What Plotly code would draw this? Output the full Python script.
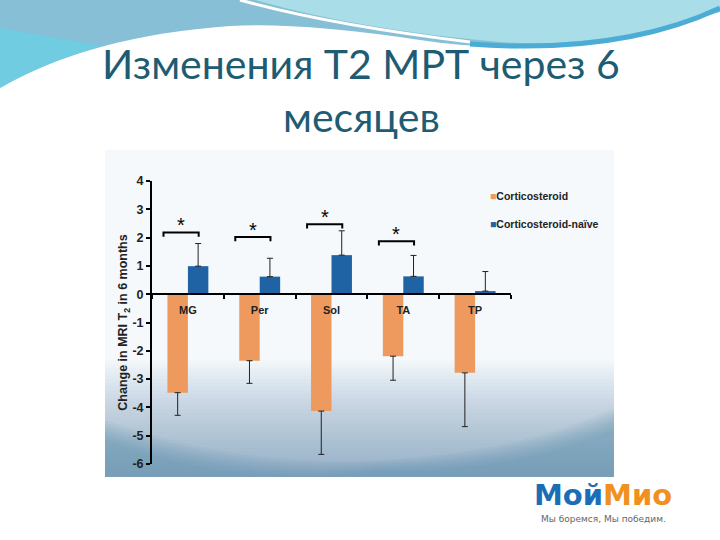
import plotly.graph_objects as go

# ---------------- data ----------------
categories = ["MG", "Per", "Sol", "TA", "TP"]
steroid_vals = [-3.48, -2.35, -4.13, -2.19, -2.78]
steroid_err = [0.80, 0.80, 1.53, 0.85, 1.90]
naive_vals = [0.99, 0.62, 1.38, 0.63, 0.11]
naive_err = [0.80, 0.65, 0.86, 0.74, 0.69]
sig_index = [0, 1, 2, 3]
sig_height = [2.18, 2.02, 2.47, 1.87]
series_names = ["Corticosteroid", "Corticosteroid-naïve"]
y_ticks = [4, 3, 2, 1, 0, -1, -2, -3, -4, -5, -6]
y_ticktext = ["4", "3", "2", "1", "0", "-1", "-2", "-3", "-4", "-5", "-6"]

ORANGE = "#EE9A5E"
BLUE = "#1F63A5"

# ---------------- layout geometry (pixels) ----------------
W, H = 720, 540
L, R, T, B = 152, 209, 181, 76
PW, PH = W - L - R, H - T - B


def px(X):
    return (X - L) / PW


def py(Y):
    return (H - B - Y) / PH


def path_px(pts, close=True):
    s = ""
    for k, p in enumerate(pts):
        if p[0] == "Q":
            _, x1, y1, x2, y2 = p
            s += f" Q{px(x1):.4f},{py(y1):.4f} {px(x2):.4f},{py(y2):.4f}"
        else:
            s += ("M" if k == 0 else " L") + f"{px(p[0]):.4f},{py(p[1]):.4f}"
    return s + (" Z" if close else "")


fig = go.Figure()
fig.add_trace(go.Bar(
    x=categories, y=steroid_vals, name=series_names[0], marker_color=ORANGE,
    marker_line_width=0,
    error_y=dict(type="data", symmetric=False, array=[0] * len(steroid_err),
                 arrayminus=steroid_err, color="#222", thickness=1, width=3),
))
fig.add_trace(go.Bar(
    x=categories, y=naive_vals, name=series_names[1], marker_color=BLUE,
    marker_line_width=0,
    error_y=dict(type="data", symmetric=False, array=naive_err,
                 arrayminus=[0] * len(naive_err), color="#222", thickness=1, width=3),
))

shapes = []
# --- slide decoration (top waves) ---
shapes.append(dict(type="path", xref="paper", yref="paper", layer="below",
                   path=path_px([(0, 0), (720, 0), (720, 12), ("Q", 560, 62, 420, 40),
                                 ("Q", 300, 22, 230, 26), ("Q", 90, 36, 0, 88)]),
                   fillcolor="#86BFD6", line_width=0))
shapes.append(dict(type="path", xref="paper", yref="paper", layer="below",
                   path=path_px([(0, 28), (102, 46), ("Q", 45, 62, 0, 88)]),
                   fillcolor="#6ACFE2", opacity=0.8, line_width=0))
shapes.append(dict(type="path", xref="paper", yref="paper", layer="below",
                   path=path_px([(255, 0), (720, 0), (720, 10), ("Q", 600, 50, 500, 42),
                                 ("Q", 360, 30, 255, 0)]),
                   fillcolor="#A9DDE8", line_width=0))
shapes.append(dict(type="path", xref="paper", yref="paper", layer="below",
                   path=path_px([(240, 0), ("Q", 330, 25, 470, 42)], close=False),
                   line=dict(color="white", width=3)))
shapes.append(dict(type="path", xref="paper", yref="paper", layer="below",
                   path=path_px([(470, 44), ("Q", 620, 55, 720, 8)], close=False),
                   line=dict(color="#4BADD6", width=5)))
# --- chart picture background ---
shapes.append(dict(type="rect", xref="paper", yref="paper", layer="below",
                   x0=px(105), x1=px(614), y0=py(477), y1=py(150),
                   fillcolor="#F5F9FB", line_width=0))
for k in range(30):
    Ytop = 360 + k * 3.8
    shapes.append(dict(type="rect", xref="paper", yref="paper", layer="below",
                       x0=px(105), x1=px(614), y0=py(477), y1=py(Ytop),
                       fillcolor="#4F93AF", opacity=0.023, line_width=0))
for k in range(8):
    d = k * 3
    shapes.append(dict(type="path", xref="paper", yref="paper", layer="below",
                       path=path_px([(105, 477), (105, 420 + d), ("Q", 240, 468 + d, 380, 460 + d / 2),
                                     ("Q", 520, 452 + d, 614, 408 + d), (614, 477)]),
                       fillcolor="#4F93AF", opacity=0.07, line_width=0))

annotations = []
# --- significance brackets ---
for i, h in zip(sig_index, sig_height):
    x0, x1, d = i - 0.34, i + 0.15, 0.15
    shapes.append(dict(type="path", xref="x", yref="y",
                       path=f"M{x0},{h - d} L{x0},{h} L{x1},{h} L{x1},{h - d}",
                       line=dict(color="black", width=2)))
    annotations.append(dict(x=(x0 + x1) / 2, y=h - 0.2, xref="x", yref="y", text="*",
                            showarrow=False, yanchor="bottom",
                            font=dict(size=20, color="black", family="Liberation Sans")))

# --- legend as text ---
for name, col, Y in [(series_names[0], ORANGE, 196), (series_names[1], BLUE, 224)]:
    annotations.append(dict(x=px(488), y=py(Y), xref="paper", yref="paper",
                            xanchor="left", yanchor="middle", showarrow=False,
                            text=f"<span style='color:{col}'>■</span><b>{name}</b>",
                            font=dict(size=10.5, color="#222", family="Liberation Sans")))

# --- title ---
annotations.append(dict(x=px(361), y=py(64), xref="paper", yref="paper",
                        text="Изменения Т2 МРТ через 6", showarrow=False,
                        xanchor="center", yanchor="middle",
                        font=dict(size=41, color="#1E5C73", family="Lato")))
annotations.append(dict(x=px(361), y=py(117), xref="paper", yref="paper",
                        text="месяцев", showarrow=False,
                        xanchor="center", yanchor="middle",
                        font=dict(size=41, color="#1E5C73", family="Lato")))
# --- logo ---
annotations.append(dict(x=px(603), y=py(495), xref="paper", yref="paper",
                        text="<b><span style='color:#1B6DB6'>Мой</span><span style='color:#F0901E'>Мио</span></b>",
                        showarrow=False, xanchor="center", yanchor="middle",
                        font=dict(size=29, family="DejaVu Sans")))
annotations.append(dict(x=px(603), y=py(519), xref="paper", yref="paper",
                        text="Мы боремся, Мы победим.", showarrow=False,
                        xanchor="center", yanchor="middle",
                        font=dict(size=9, color="#666", family="DejaVu Sans")))

fig.update_layout(
    width=W, height=H,
    margin=dict(l=L, r=R, t=T, b=B),
    paper_bgcolor="white", plot_bgcolor="rgba(0,0,0,0)",
    barmode="group", bargap=0.43, bargroupgap=0,
    showlegend=False,
    shapes=shapes, annotations=annotations,
    font=dict(family="Liberation Sans", color="#222"),
    xaxis=dict(type="category", anchor="free", position=0.6,
               showline=True, linecolor="black", linewidth=2,
               ticks="outside", tickson="boundaries", ticklen=4, tickcolor="black",
               tickwidth=1.5, showgrid=False, zeroline=False, ticklabelstandoff=6,
               tickfont=dict(size=11, color="#222", family="Liberation Sans", weight="bold")),
    yaxis=dict(range=[-6, 4], tickvals=y_ticks, ticktext=y_ticktext, showline=True,
               linecolor="black", linewidth=2, ticks="outside", ticklen=4,
               tickcolor="black", tickwidth=1.5, showgrid=False, zeroline=False,
               tickfont=dict(size=12.5, color="#222", family="Liberation Sans", weight="bold"),
               title=dict(text="<b>Change in MRI T<sub>2</sub> in 6 months</b>",
                          font=dict(size=12.5, color="#222", family="Liberation Sans"),
                          standoff=2)),
)

fig.write_html("out.html", config={"displayModeBar": False},
               post_script="document.body.style.margin='0px';document.body.style.overflow='hidden';")
